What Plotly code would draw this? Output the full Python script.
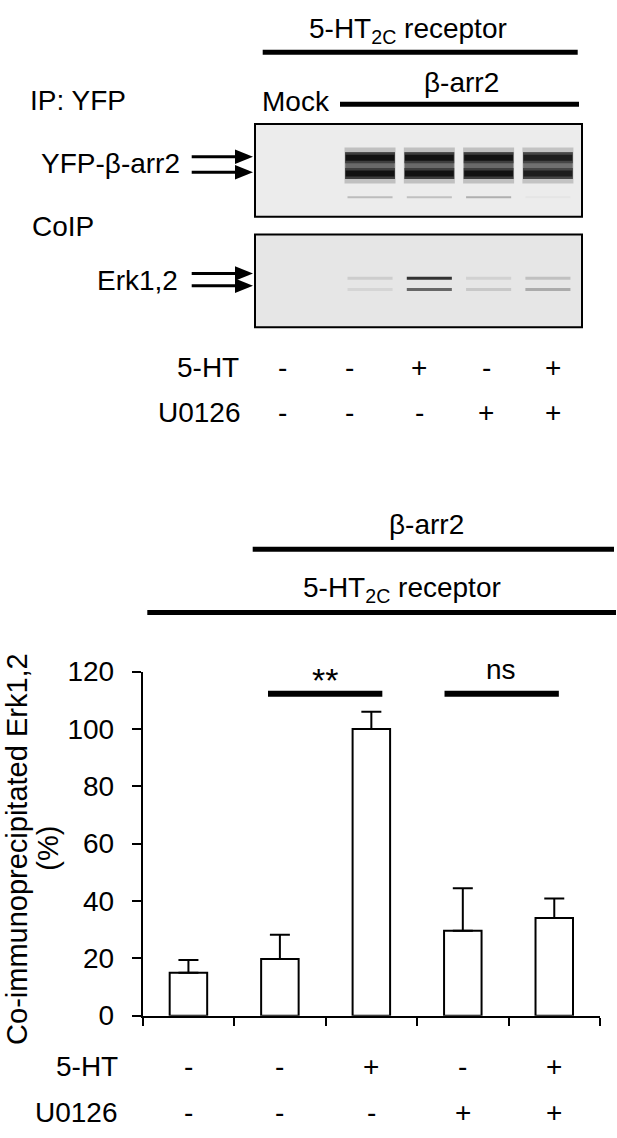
"""
5-HT2C / beta-arrestin2 / Erk1,2 co-IP figure (blot panel + bar chart)
"""
import plotly.graph_objects as go

W, H = 617, 1138
FONT = "Liberation Sans, Arial, sans-serif"

# ---- bar chart data ----
categories = [1, 2, 3, 4, 5]
coip_erk = [15.0, 19.8, 100.0, 29.6, 34.1]      # % co-immunoprecipitated Erk1,2
coip_err = [4.4, 8.4, 6.0, 14.8, 6.8]           # upper error (SEM)
ht_signs = ["-", "-", "+", "-", "+"]
u0126_signs = ["-", "-", "-", "+", "+"]
y_ticks = [0, 20, 40, 60, 80, 100, 120]

# ---- blot data (lane intensities, 0 = nothing, 1 = saturated) ----
lanes = [1, 2, 3, 4, 5]
yfp_band = [0.0, 1.0, 1.0, 1.0, 0.95]
yfp_minor = [0.0, 0.22, 0.2, 0.28, 0.03]
erk_upper = [0.0, 0.12, 0.85, 0.1, 0.18]
erk_lower = [0.0, 0.08, 0.6, 0.14, 0.28]
# band positions, % of the membrane height from the top
yfp_pos = [36.3, 53.4]
yfp_minor_pos = 78.8
erk_pos = [47.2, 59.4]


def px(x):
    return x / W


def py(y):
    return 1 - y / H


def grey(level, bg=236, dark=18):
    v = int(round(bg * (1 - level) + dark * level))
    return f"rgb({v},{v},{v})"


fig = go.Figure()

# bars
fig.add_trace(go.Bar(
    x=categories, y=coip_erk, width=0.41,
    marker=dict(color="white", line=dict(color="black", width=2)),
    error_y=dict(type="data", symmetric=False, array=coip_err,
                 arrayminus=[0] * len(coip_err),
                 color="black", thickness=2, width=10),
    xaxis="x", yaxis="y", showlegend=False, hoverinfo="skip",
))


def band(lane, pos, color, width, yaxis, half=0.42):
    fig.add_trace(go.Scatter(x=[lane - half, lane + half], y=[pos, pos], mode="lines",
                             line=dict(color=color, width=width),
                             xaxis="x2", yaxis=yaxis, showlegend=False, hoverinfo="skip"))


# blot bands: soft halo, grey middle, two dark bands
mid = sum(yfp_pos) / 2
for lane, lvl in zip(lanes, yfp_band):
    if lvl <= 0:
        continue
    band(lane, mid, grey(lvl * 0.2), 36, "y2", 0.43)
    band(lane, mid, grey(lvl * 0.5), 27, "y2", 0.42)
    band(lane, mid, grey(lvl * 0.6), 14, "y2", 0.41)
    for p in yfp_pos:
        band(lane, p, grey(lvl * 0.8), 11, "y2", 0.42)
        band(lane, p, grey(lvl), 6, "y2", 0.41)
for lane, lvl in zip(lanes, yfp_minor):
    if lvl > 0:
        band(lane, yfp_minor_pos, grey(lvl), 2, "y2", 0.38)
for levels, p in zip([erk_upper, erk_lower], erk_pos):
    for lane, lvl in zip(lanes, levels):
        if lvl > 0:
            band(lane, p, grey(lvl, bg=230), 3, "y3", 0.38)

# membrane frames
for yref, fill in [("y2 domain", "#ececec"), ("y3 domain", "#e6e6e6")]:
    fig.add_shape(type="rect", xref="x2 domain", yref=yref, x0=0, x1=1, y0=0, y1=1,
                  fillcolor=fill, line=dict(color="black", width=2), layer="below")

# group lines (paper coordinates)
for x0, x1, y in [(262.7, 577.7, 38.3), (340, 579, 91.7),
                  (252.7, 614, 549.3), (147.3, 616, 614.3)]:
    fig.add_shape(type="line", xref="paper", yref="paper",
                  x0=px(x0), x1=px(x1), y0=py(y), y1=py(y),
                  line=dict(color="black", width=5))

# significance lines
for x0, x1 in [(1.87, 3.12), (3.8, 5.05)]:
    fig.add_shape(type="line", xref="x", yref="paper", x0=x0, x1=x1,
                  y0=py(697.7), y1=py(697.7), line=dict(color="black", width=6))

# band arrows: shaft + filled head
for y in [145.7, 161.7, 265.7, 278.3]:
    fig.add_shape(type="line", xref="paper", yref="paper",
                  x0=px(191.7), x1=px(238), y0=py(y), y1=py(y),
                  line=dict(color="black", width=3))
    fig.add_shape(type="path", xref="paper", yref="paper",
                  path=f"M {px(235)},{py(y - 7.5)} L {px(253)},{py(y)} "
                       f"L {px(235)},{py(y + 7.5)} Z",
                  fillcolor="black", line=dict(color="black", width=0))

annotations = []


def label(text, x, y, xanchor="center", xref="paper", size=28, angle=0):
    annotations.append(dict(text=text, x=x, y=y, xref=xref, yref="paper",
                            xanchor=xanchor, yanchor="middle", showarrow=False,
                            textangle=angle, borderpad=0, borderwidth=0,
                            font=dict(family=FONT, size=size, color="black")))


# blot labels
label("5-HT<sub>2C</sub> receptor", px(408.5), py(16))
label("IP: YFP", px(29.6), py(87.5), xanchor="left")
label("Mock", px(261.7), py(89), xanchor="left")
label("\u03b2-arr2", px(461), py(69))
label("YFP-\u03b2-arr2", px(180), py(153), xanchor="right")
label("CoIP", px(32), py(217.5), xanchor="left")
label("Erk1,2", px(178), py(272.5), xanchor="right")
label("5-HT", px(239), py(362.5), xanchor="right")
label("U0126", px(241), py(409), xanchor="right")
blot_sign_x = [282.6, 349.8, 419, 486, 553]
for sx, a, b in zip(blot_sign_x, ht_signs, u0126_signs):
    label(a, px(sx), py(362.5))
    label(b, px(sx), py(409))

# chart labels
label("\u03b2-arr2", px(426.5), py(524))
label("5-HT<sub>2C</sub> receptor", px(402.5), py(591))
label("**", 2.49, py(684), xref="x", size=34)
label("ns", 4.42, py(672.7), xref="x")
label("Co-immunoprecipitated Erk1,2", px(16.8), py(857.5), size=29, angle=-90)
label("(%)", px(48), py(857), size=29, angle=-90)
label("5-HT", px(118), py(1081), xanchor="right")
label("U0126", px(118), py(1128), xanchor="right")
for c, a, b in zip(categories, ht_signs, u0126_signs):
    label(a, c, py(1081), xref="x")
    label(b, c, py(1128), xref="x")

fig.update_layout(
    width=W, height=H, margin=dict(l=0, r=0, t=0, b=0),
    paper_bgcolor="white", plot_bgcolor="white",
    font=dict(family=FONT, size=28, color="black"),
    showlegend=False, annotations=annotations,
    xaxis=dict(domain=[px(142.7), px(600)], range=[0.5, 5.5], anchor="y",
               tickvals=[0.5, 1.5, 2.5, 3.5, 4.5, 5.5], showticklabels=False,
               ticks="outside", ticklen=8, tickwidth=2, tickcolor="black",
               showline=True, linewidth=2, linecolor="black",
               showgrid=False, zeroline=False),
    yaxis=dict(domain=[py(1028.7), py(675)], range=[0, 120], anchor="x",
               tickvals=y_ticks, ticks="outside", ticklen=9, tickwidth=2,
               tickcolor="black", ticklabelstandoff=12,
               showline=True, linewidth=2, linecolor="black",
               showgrid=False, zeroline=False,
               tickfont=dict(family=FONT, size=28)),
    xaxis2=dict(domain=[px(255), px(582)], range=[0.06, 5.575], anchor="y2",
                visible=False),
    yaxis2=dict(domain=[py(207.5), py(112)], range=[100, 0], anchor="x2",
                visible=False),
    yaxis3=dict(domain=[py(321), py(225.7)], range=[100, 0], anchor="x2",
                visible=False),
)

# no page margin so the figure fills the window exactly
fig.write_html("out.html", config={"displayModeBar": False},
               post_script="document.body.style.margin='0';"
                           "document.body.style.overflow='hidden';")
